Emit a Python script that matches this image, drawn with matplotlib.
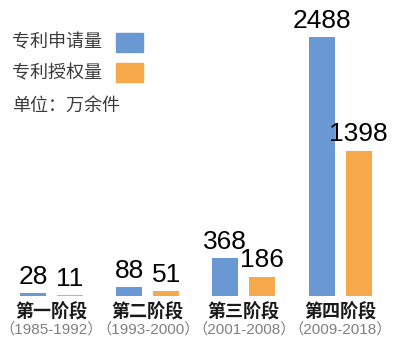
import matplotlib.pyplot as plt
from matplotlib.patches import Rectangle

plt.rcParams['font.family'] = ['Noto Sans CJK SC', 'DejaVu Sans']

stages = ['第一阶段', '第二阶段', '第三阶段', '第四阶段']
years = ['（1985-1992）', '（1993-2000）', '（2001-2008）', '（2009-2018）']
applied = [28, 88, 368, 2488]
granted = [11, 51, 186, 1398]
series_names = ['专利申请量', '专利授权量']
unit_text = '单位：万余件'

blue = '#6a98d2'
orange = '#f5a94a'

fig = plt.figure(figsize=(4.0, 3.51), dpi=100)
ax = fig.add_axes([0, 55 / 351, 1, 296 / 351])
ax.set_xlim(-0.535, 3.623)
ax.set_ylim(0, 2846)
ax.axis('off')

x = range(len(stages))
w = 0.27
off = 0.192
ax.bar([i - off for i in x], applied, w, color=blue)
ax.bar([i + off for i in x], granted, w, color=orange)

for i in x:
    ax.annotate(str(applied[i]), (i - off, applied[i]), xytext=(0, 3),
                textcoords='offset points', ha='center', va='bottom',
                fontsize=19, family='Liberation Sans', color='black')
    ax.annotate(str(granted[i]), (i + off, granted[i]), xytext=(0, 3),
                textcoords='offset points', ha='center', va='bottom',
                fontsize=19, family='Liberation Sans', color='black')
    ax.annotate(stages[i], (i, 0), xytext=(0, -11.5), textcoords='offset points',
                ha='center', va='center', fontsize=13, fontweight='bold',
                color='#1a1a1a', annotation_clip=False)
    ax.annotate(years[i], (i, 0), xytext=(0, -24), textcoords='offset points',
                ha='center', va='center', fontsize=11,
                family=['Liberation Sans', 'Noto Sans CJK SC'],
                color='#808080', annotation_clip=False)

# legend drawn by hand
fig.text(12 / 400, 1 - 42 / 351, series_names[0], fontsize=13, color='#3a3a3a',
         va='center', ha='left')
fig.text(12 / 400, 1 - 73 / 351, series_names[1], fontsize=13, color='#3a3a3a',
         va='center', ha='left')
fig.text(12 / 400, 1 - 106 / 351, unit_text, fontsize=13, color='#3a3a3a',
         va='center', ha='left')
fig.patches.append(Rectangle((116 / 400, 1 - 52 / 351), 27 / 400, 19 / 351,
                             transform=fig.transFigure, color=blue))
fig.patches.append(Rectangle((116 / 400, 1 - 82 / 351), 27 / 400, 19 / 351,
                             transform=fig.transFigure, color=orange))

fig.savefig('out.png', dpi=100, facecolor='white')
